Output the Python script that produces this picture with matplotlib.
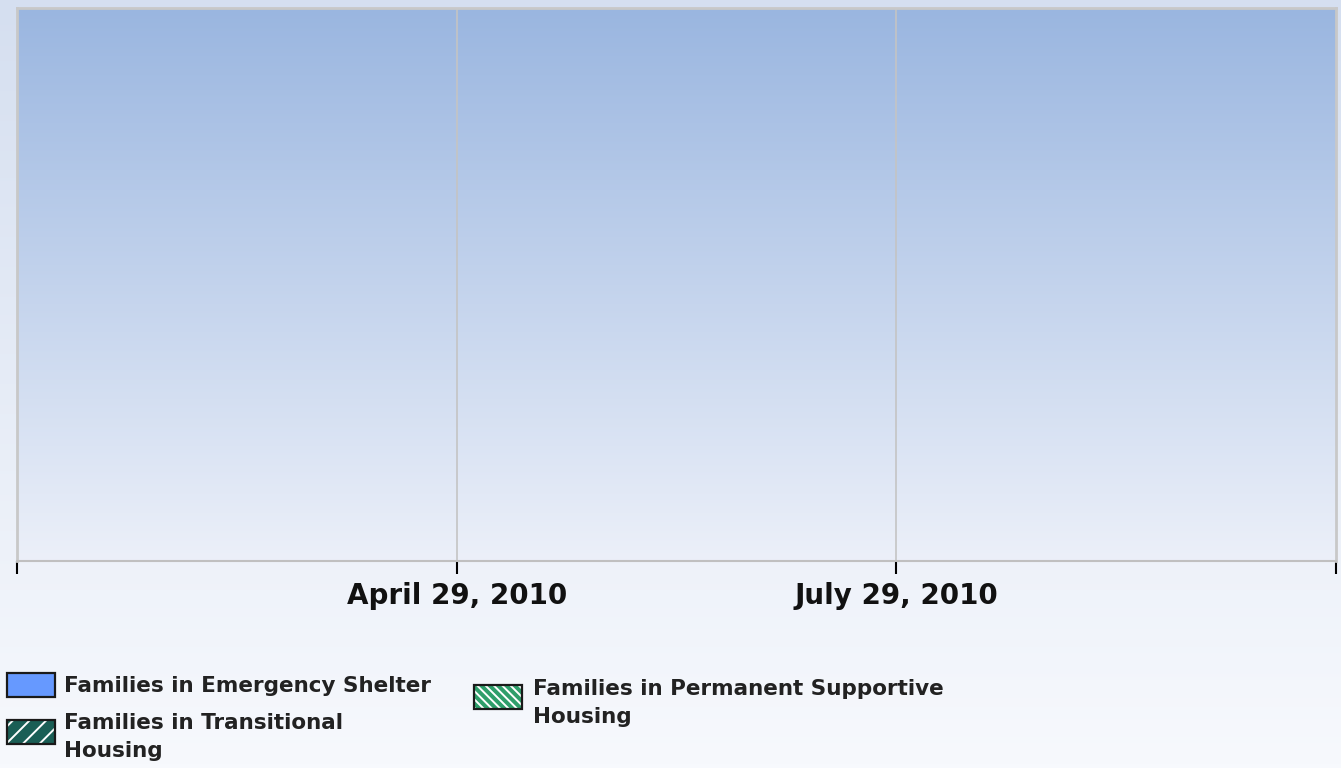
import matplotlib
matplotlib.use("Agg")
import matplotlib.pyplot as plt
import numpy as np
from matplotlib.patches import Rectangle
from matplotlib.colors import LinearSegmentedColormap

# ---- data ----
categories = ["January 29, 2010", "April 29, 2010", "July 29, 2010", "October 29, 2010"]
tick_labels = ["", "April 29, 2010", "July 29, 2010", ""]
series_names = ["Families in Emergency Shelter",
                "Families in Transitional\nHousing",
                "Families in Permanent Supportive\nHousing"]
emergency_shelter = []      # no values shown
transitional = []
permanent_supportive = []

W, H = 1341, 768
fig = plt.figure(figsize=(W / 100, H / 100), dpi=100)

# figure background gradient
bg = fig.add_axes([0, 0, 1, 1], zorder=-10)
bg_cmap = LinearSegmentedColormap.from_list("bg", ["#f7f9fd", "#d5dff0"])
bg.imshow(np.linspace(0, 1, 256).reshape(-1, 1), aspect="auto", cmap=bg_cmap,
          extent=[0, 1, 0, 1], origin="lower")
bg.axis("off")

x0, x1 = 17, 1336
y_top, y_bot = 8, 561
ax = fig.add_axes([x0 / W, 1 - y_bot / H, (x1 - x0) / W, (y_bot - y_top) / H])
ax.set_xlim(0, 3)
ax.set_ylim(0, 1)
pa_cmap = LinearSegmentedColormap.from_list("pa", ["#ecf0f9", "#9ab6e0"])
ax.imshow(np.linspace(0, 1, 256).reshape(-1, 1), aspect="auto", cmap=pa_cmap,
          extent=[0, 3, 0, 1], origin="lower", zorder=0)

xs = np.arange(len(categories))
ax.bar(xs[:len(emergency_shelter)], emergency_shelter, color="#6699ff")
ax.bar(xs[:len(transitional)], transitional, color="#1a5e55")
ax.bar(xs[:len(permanent_supportive)], permanent_supportive, color="#2e9e6a")

ax.set_xticks(xs)
ax.set_xticklabels(tick_labels, fontsize=20, fontweight="bold", family="DejaVu Sans",
                   color="#111111")
ax.tick_params(axis="x", length=9, width=1.5, color="black", pad=6)
ax.set_yticks([])
for x in [1, 2]:
    ax.axvline(x, color="#c4c4c4", lw=1.2, zorder=1)
for s in ["top", "left", "right"]:
    ax.spines[s].set_color("#c8c8c8")
    ax.spines[s].set_linewidth(2)
ax.spines["bottom"].set_color("#c0c0c0")
ax.spines["bottom"].set_linewidth(1.5)

# ---- legend (manual) ----
plt.rcParams["hatch.linewidth"] = 1.4
leg_items = [
    (7, 673, "#6699ff", None, series_names[0], 64, 686),
    (7, 720, "#1a5e55", "//", series_names[1], 64, 737),
    (474, 685, "#2e9e6a", "\\\\\\\\", series_names[2], 533, 703),
]
for (px, py, col, hatch, label, tx, ty) in leg_items:
    xy = (px / W, 1 - (py + 24) / H)
    w, h = 48 / W, 24 / H
    fig.patches.append(Rectangle(xy, w, h, transform=fig.transFigure,
                                 facecolor=col, edgecolor="none", lw=0))
    if hatch:
        fig.patches.append(Rectangle(xy, w, h, transform=fig.transFigure,
                                     facecolor="none", edgecolor="white", lw=0,
                                     hatch=hatch))
    fig.patches.append(Rectangle(xy, w, h, transform=fig.transFigure,
                                 facecolor="none", edgecolor="#1a1a1a", lw=1.6))
    fig.text(tx / W, 1 - ty / H, label, fontsize=15.5, fontweight="bold",
             color="#222222", va="center", ha="left", linespacing=1.45,
             family="DejaVu Sans")

fig.savefig("out.png", dpi=100)
